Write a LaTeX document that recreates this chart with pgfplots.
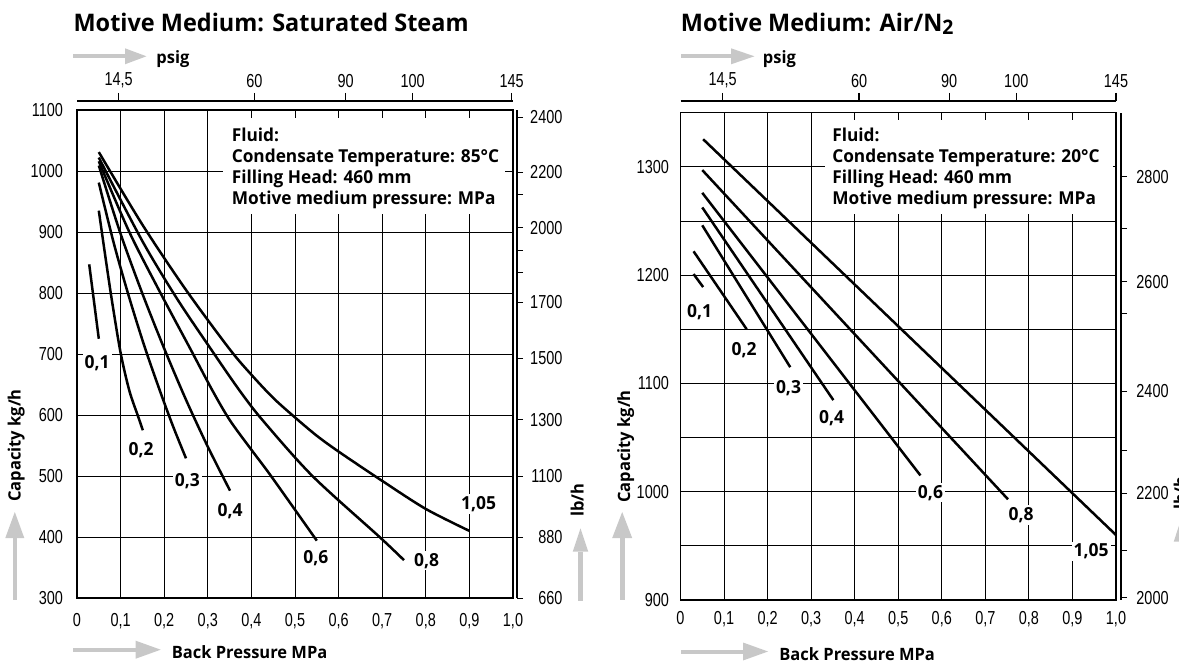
\documentclass[border=0pt]{standalone}
\usepackage{pgfplots}
\pgfplotsset{compat=1.18}
\usepackage{fontspec}
\setmainfont{Open Sans}[FakeStretch=0.97]
\newfontfamily\tickfont{Liberation Sans}[FakeStretch=0.77]
\definecolor{arrowgray}{RGB}{200,200,200}
\newcommand{\tf}{\tickfont\fontsize{9.4}{9.4}\selectfont}
\newcommand{\lf}{\bfseries\fontsize{8.9}{8.9}\selectfont}
\newcommand{\cf}{\bfseries\fontsize{9}{9}\selectfont}
\newcommand{\af}{\bfseries\fontsize{8.5}{8.5}\selectfont}
\newcommand{\ttl}{\bfseries\fontsize{12.1}{12.1}\selectfont}
\tikzset{lab/.style={fill=white, inner sep=1pt, font=\cf}}
\pgfplotsset{
  mainax/.style={scale only axis, anchor=south west, xmin=0, xmax=1,
    grid=major, grid style={black, line width=0.45pt},
    major tick length=0pt, minor tick length=0pt,
    axis line style={line width=0.8pt}, clip=false,
    xtick={0,0.1,0.2,0.3,0.4,0.5,0.6,0.7,0.8,0.9,1},
    xticklabels={0,{0,1},{0,2},{0,3},{0,4},{0,5},{0,6},{0,7},{0,8},{0,9},{1,0}},
    ticklabel style={font=\tf}},
  curve/.style={black, line width=1.25pt, smooth},
  secax/.style={scale only axis, anchor=south west, xmin=0, xmax=1,
    axis x line=none, axis y line*=right, axis line style={-, line width=0.6pt},
    tick align=outside, major tick length=3pt, minor tick length=3pt,
    tick style={black, line width=0.5pt}, xtick=\empty},
  topax/.style={scale only axis, anchor=south west, xmin=0, xmax=1,
    axis y line=none, axis x line*=top, axis line style={-, line width=0.6pt},
    tick align=outside, major tick length=4pt, ytick=\empty,
    tick style={black, line width=0.6pt},
    xticklabel style={font=\tf, yshift=-1pt}},
}
\begin{document}
\begin{tikzpicture}
% ---------------- Left chart ----------------
\begin{axis}[mainax, at={(38.5pt,33.5pt)}, width=218pt, height=244pt,
  ymin=300, ymax=1100,
  ytick={300,400,500,600,700,800,900,1000,1100},
  yticklabels={300,400,500,600,700,800,900,1000,1100},
  xticklabel style={yshift=-4pt}, yticklabel style={xshift=-3.5pt}]
\addplot[curve] coordinates {(0.028,847) (0.05,725)};
\addplot[curve] coordinates {(0.05,935) (0.065,860) (0.08,788) (0.1,702) (0.12,640) (0.14,598) (0.151,575)};
\addplot[curve] coordinates {(0.05,981) (0.085,880) (0.12,792) (0.155,712) (0.19,640) (0.22,582) (0.25,529)};
\addplot[curve] coordinates {(0.05,1009) (0.1,897) (0.15,799) (0.2,709) (0.25,625) (0.3,548) (0.351,476)};
\addplot[curve] coordinates {(0.05,1016) (0.12,900) (0.19,802) (0.261,707) (0.31,641) (0.35,592) (0.40,543) (0.445,500) (0.55,394)};
\addplot[curve] coordinates {(0.05,1022) (0.15,885) (0.23,790) (0.31,705) (0.372,641) (0.425,592) (0.54,500) (0.694,400) (0.75,362)};
\addplot[curve] coordinates {(0.05,1031) (0.15,912) (0.25,805) (0.35,708) (0.4,666) (0.45,628) (0.5,596) (0.55,566) (0.6,540) (0.7,492) (0.8,446) (0.9,410)};
\node[lab] at (axis cs:0.046,685) {0,1};
\node[lab] at (axis cs:0.147,543) {0,2};
\node[lab] at (axis cs:0.253,492) {0,3};
\node[lab] at (axis cs:0.351,443) {0,4};
\node[lab] at (axis cs:0.548,366) {0,6};
\node[lab] at (axis cs:0.802,361) {0,8};
\node[lab] at (axis cs:0.921,454) {1,05};
\end{axis}
\begin{axis}[secax, at={(38.5pt,33.5pt)}, width=220pt, height=244pt,
  ymin=300, ymax=1100,
  ytick={300,400,500,592,693,785,906.6,998,1088.5},
  yticklabels={660,880,1100,1300,1500,1700,2000,2200,2400},
  minor ytick={834,869,962},
  yticklabel style={font=\tf, anchor=west, inner sep=0pt, text width=20pt, align=right, xshift=-0.5pt}]
\end{axis}
\begin{axis}[topax, at={(38.5pt,33.5pt)}, width=218pt, height=248.5pt,
  ymin=0, ymax=1,
  xtick={0.0954,0.407,0.616,0.770,0.997},
  xticklabels={{14,5},60,90,100,145}]
\end{axis}
% ---------------- Right chart ----------------
\begin{axis}[mainax, at={(340.25pt,32.5pt)}, width=217.75pt, height=243.65pt,
  ymin=900, ymax=1350,
  ytick={900,1000,1100,1200,1300},
  yticklabels={900,1000,1100,1200,1300},
  minor ytick={950,1050,1150,1250,1350},
  grid=both, minor grid style={black, line width=0.45pt},
  xticklabel style={yshift=-2pt}, yticklabel style={xshift=-2.25pt}]
\addplot[curve] coordinates {(0.03,1201) (0.052,1189)};
\addplot[curve] coordinates {(0.03,1222) (0.152,1150)};
\addplot[curve] coordinates {(0.05,1246) (0.252,1115)};
\addplot[curve] coordinates {(0.05,1262.5) (0.351,1084.6)};
\addplot[curve] coordinates {(0.05,1276) (0.551,1015)};
\addplot[curve] coordinates {(0.05,1297) (0.752,993)};
\addplot[curve] coordinates {(0.052,1325.5) (1.0,960)};
\node[lab] at (axis cs:0.044,1166) {0,1};
\node[lab] at (axis cs:0.146,1131) {0,2};
\node[lab] at (axis cs:0.248,1096) {0,3};
\node[lab] at (axis cs:0.347,1068) {0,4};
\node[lab] at (axis cs:0.574,999) {0,6};
\node[lab] at (axis cs:0.782,978.5) {0,8};
\node[lab] at (axis cs:0.943,945) {1,05};
\end{axis}
\begin{axis}[secax, at={(340.25pt,32.5pt)}, width=220.25pt, height=243.65pt,
  ymin=900, ymax=1350,
  ytick={902,998.5,1093,1194,1291},
  yticklabels={2000,2200,2400,2600,2800},
  minor ytick={946,1038.5,1165,1243},
  yticklabel style={font=\tf, anchor=west, inner sep=0pt, xshift=4.5pt}]
\end{axis}
\begin{axis}[topax, at={(340.25pt,32.5pt)}, width=217.75pt, height=249.5pt,
  ymin=0, ymax=1,
  xtick={0.0967,0.41,0.617,0.771,1.0},
  xticklabels={{14,5},60,90,100,145}]
\end{axis}
% ---------------- Annotations (pixel units) ----------------
\begin{scope}[shift={(0pt,332.5pt)}, x=0.5pt, y=-0.5pt]
  % titles
  \node[anchor=base west, inner sep=0, font=\ttl] at (73.2,32) {Motive Medium: Saturated Steam};
  \node[anchor=base west, inner sep=0, font=\ttl] at (680.5,32) {Motive Medium: Air/N\raisebox{-1.2pt}{\fontsize{10}{10}\selectfont 2}};
  % psig arrows
  \fill[arrowgray] (73,54.3) rectangle (125,58.3);
  \fill[arrowgray] (125,48.3) -- (146.4,56.3) -- (125,64.3) -- cycle;
  \node[anchor=base west, inner sep=0, font=\af] at (156,64) {psig};
  \fill[arrowgray] (680.5,54.3) rectangle (731,58.3);
  \fill[arrowgray] (731,48.3) -- (754.4,56.3) -- (731,64.3) -- cycle;
  \node[anchor=base west, inner sep=0, font=\af] at (762.5,64) {psig};
  % back pressure arrows
  \fill[arrowgray] (73.2,647.7) rectangle (135.7,651.7);
  \fill[arrowgray] (135.7,640.7) -- (160.7,649.7) -- (135.7,658.7) -- cycle;
  \node[anchor=base west, inner sep=0, font=\af] at (171.4,658) {Back Pressure MPa};
  \fill[arrowgray] (680.5,649.5) rectangle (743,653.5);
  \fill[arrowgray] (743,642.5) -- (768,651.5) -- (743,660.5) -- cycle;
  \node[anchor=base west, inner sep=0, font=\af] at (779,660) {Back Pressure MPa};
  % capacity arrows
  \fill[arrowgray] (12.5,538) rectangle (17,600);
  \fill[arrowgray] (5.3,538) -- (14.8,512) -- (24.3,538) -- cycle;
  \node[anchor=base west, inner sep=0, font=\af, rotate=90] at (20.5,502) {Capacity kg/h};
  \fill[arrowgray] (619.7,538) rectangle (624.7,600);
  \fill[arrowgray] (612.2,538) -- (622.2,512) -- (632.2,538) -- cycle;
  \node[anchor=base west, inner sep=0, font=\af, rotate=90] at (630,503) {Capacity kg/h};
  % lb/h arrows
  \fill[arrowgray] (577.7,551.7) rectangle (583.3,600.7);
  \fill[arrowgray] (572.7,551.7) -- (580.5,528.3) -- (588.3,551.7) -- cycle;
  \node[anchor=base west, inner sep=0, font=\af, rotate=90] at (583.5,517) {lb/h};
  \fill[arrowgray] (1178.7,541.7) rectangle (1184.3,600.7);
  \fill[arrowgray] (1173.7,541.7) -- (1181.5,518) -- (1189.3,541.7) -- cycle;
  \node[anchor=base west, inner sep=0, font=\af, rotate=90] at (1186.5,510) {lb/h};
  % text boxes
  \fill[white] (223,118) rectangle (505,214);
  \node[anchor=base west, inner sep=0, font=\lf] at (231.4,141.7) {Fluid:};
  \node[anchor=base west, inner sep=0, font=\lf] at (231.4,162.7) {Condensate Temperature: 85°C};
  \node[anchor=base west, inner sep=0, font=\lf] at (231.4,184) {Filling Head: 460 mm};
  \node[anchor=base west, inner sep=0, font=\lf] at (231.4,205) {Motive medium pressure: MPa};
  \fill[white] (825.3,120) rectangle (1113,214);
  \node[anchor=base west, inner sep=0, font=\lf] at (831.9,141.7) {Fluid:};
  \node[anchor=base west, inner sep=0, font=\lf] at (831.9,162.7) {Condensate Temperature: 20°C};
  \node[anchor=base west, inner sep=0, font=\lf] at (831.9,184) {Filling Head: 460 mm};
  \node[anchor=base west, inner sep=0, font=\lf] at (831.9,205) {Motive medium pressure: MPa};
\end{scope}
\pgfresetboundingbox
\useasboundingbox (0pt,0pt) rectangle (589.5pt,332.5pt);
\end{tikzpicture}
\end{document}
